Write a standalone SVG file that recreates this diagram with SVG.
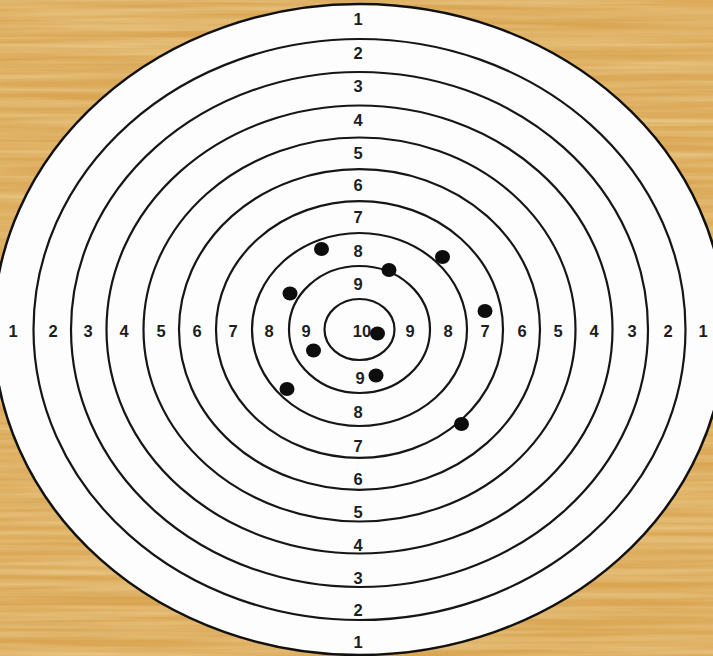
<svg xmlns="http://www.w3.org/2000/svg" width="713" height="656" viewBox="0 0 713 656">
  <defs>
    <filter id="grainLight" x="0" y="0" width="100%" height="100%" filterUnits="userSpaceOnUse">
      <feTurbulence type="fractalNoise" baseFrequency="0.004 0.16" numOctaves="3" seed="7" result="n"/>
      <feColorMatrix in="n" type="matrix" values="0 0 0 0 0.95  0 0 0 0 0.80  0 0 0 0 0.48  1.8 0 0 0 -0.55"/>
    </filter>
    <filter id="grainDark" x="0" y="0" width="100%" height="100%" filterUnits="userSpaceOnUse">
      <feTurbulence type="fractalNoise" baseFrequency="0.003 0.09" numOctaves="3" seed="21" result="n"/>
      <feColorMatrix in="n" type="matrix" values="0 0 0 0 0.76  0 0 0 0 0.52  0 0 0 0 0.20  1.6 0 0 0 -0.6"/>
    </filter>
    <style>
      .ring { fill: none; stroke: #161616; stroke-width: 2.2; }
      .outer { fill: #fdfdfd; stroke: #111; stroke-width: 2.5; }
      .lbl { font-family: "Liberation Sans", Arial, sans-serif; font-weight: bold; font-size: 16.5px; fill: #1e1e1e; text-anchor: middle; }
      .hole { fill: #0d0d0d; }
    </style>
  </defs>

  <g id="background">
    <rect x="0" y="0" width="713" height="656" fill="#d9a552"/>
    <rect x="0" y="0" width="713" height="656" filter="url(#grainDark)" opacity="0.5"/>
    <rect x="0" y="0" width="713" height="656" filter="url(#grainLight)" opacity="0.45"/>
  </g>

  <g id="target">
    <ellipse class="outer" cx="359.5" cy="329.5" rx="366" ry="325.5"/>
    <ellipse class="ring" cx="359.5" cy="329.5" rx="326" ry="290.5"/>
    <ellipse class="ring" cx="359.5" cy="329.5" rx="288.5" ry="257.5"/>
    <ellipse class="ring" cx="359.5" cy="329.5" rx="253" ry="224"/>
    <ellipse class="ring" cx="359.5" cy="329.5" rx="216" ry="192"/>
    <ellipse class="ring" cx="359.5" cy="329.5" rx="180.5" ry="160.3"/>
    <ellipse class="ring" cx="359.5" cy="329.5" rx="143.5" ry="128.4"/>
    <ellipse class="ring" cx="359.5" cy="329.5" rx="107.5" ry="96.5"/>
    <ellipse class="ring" cx="359.5" cy="329.5" rx="70.5" ry="63.5"/>
    <ellipse class="ring" cx="359.5" cy="329.5" rx="35" ry="30.5"/>
  </g>

  <g id="labels-vertical">
    <text class="lbl" x="358" y="25">1</text>
    <text class="lbl" x="358" y="59">2</text>
    <text class="lbl" x="358" y="92">3</text>
    <text class="lbl" x="358" y="126">4</text>
    <text class="lbl" x="358" y="159">5</text>
    <text class="lbl" x="358" y="191">6</text>
    <text class="lbl" x="358" y="223">7</text>
    <text class="lbl" x="358" y="257">8</text>
    <text class="lbl" x="358" y="290">9</text>
    <text class="lbl" x="362" y="337">10</text>
    <text class="lbl" x="360" y="384">9</text>
    <text class="lbl" x="358" y="418">8</text>
    <text class="lbl" x="358" y="452">7</text>
    <text class="lbl" x="358" y="485">6</text>
    <text class="lbl" x="358" y="518">5</text>
    <text class="lbl" x="358" y="551">4</text>
    <text class="lbl" x="358" y="584">3</text>
    <text class="lbl" x="358" y="616">2</text>
    <text class="lbl" x="358" y="648">1</text>
  </g>

  <g id="labels-horizontal">
    <text class="lbl" x="13" y="337">1</text>
    <text class="lbl" x="53" y="337">2</text>
    <text class="lbl" x="88" y="337">3</text>
    <text class="lbl" x="124" y="337">4</text>
    <text class="lbl" x="161" y="337">5</text>
    <text class="lbl" x="197" y="337">6</text>
    <text class="lbl" x="233" y="337">7</text>
    <text class="lbl" x="269" y="337">8</text>
    <text class="lbl" x="306" y="337">9</text>
    <text class="lbl" x="410" y="337">9</text>
    <text class="lbl" x="448" y="337">8</text>
    <text class="lbl" x="485" y="337">7</text>
    <text class="lbl" x="522" y="337">6</text>
    <text class="lbl" x="558" y="337">5</text>
    <text class="lbl" x="594" y="337">4</text>
    <text class="lbl" x="632" y="337">3</text>
    <text class="lbl" x="668" y="337">2</text>
    <text class="lbl" x="703" y="337">1</text>
  </g>

  <g id="holes">
    <ellipse class="hole" cx="321.5" cy="249" rx="7.5" ry="7"/>
    <ellipse class="hole" cx="442.5" cy="257" rx="7.5" ry="7"/>
    <ellipse class="hole" cx="389" cy="270" rx="7.5" ry="7"/>
    <ellipse class="hole" cx="290" cy="293.5" rx="7.5" ry="7"/>
    <ellipse class="hole" cx="485" cy="311" rx="7.5" ry="7"/>
    <ellipse class="hole" cx="377.5" cy="333.5" rx="7.5" ry="7"/>
    <ellipse class="hole" cx="313.5" cy="350.5" rx="7.5" ry="7"/>
    <ellipse class="hole" cx="376" cy="375.5" rx="7.5" ry="7"/>
    <ellipse class="hole" cx="287" cy="389" rx="7.5" ry="7"/>
    <ellipse class="hole" cx="461.5" cy="424" rx="7.5" ry="7"/>
  </g>
</svg>
